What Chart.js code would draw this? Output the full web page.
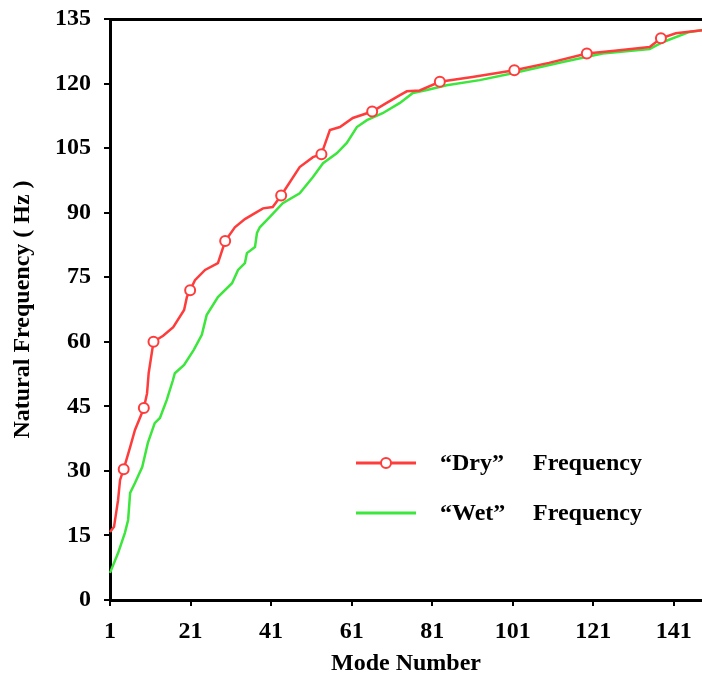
<!DOCTYPE html>
<html>
<head>
<meta charset="utf-8">
<script src="https://cdn.jsdelivr.net/npm/chart.js@4"></script>
<style>
  html, body { margin: 0; padding: 0; background: #fff; }
  #wrap { width: 702px; height: 678px; }
</style>
</head>
<body>
<div id="wrap"><canvas id="freqChart" width="702" height="678"></canvas></div>
<script>
// values: [mode number, natural frequency in Hz]
var dryModes = [1, 2, 3, 3.5, 4.4, 6, 7.2, 8.9, 9.4, 10.2, 10.6, 11.8, 14.2, 16.7, 19.4, 20.1, 20.9, 22.1, 24.6, 27.8, 29.6, 32, 34.5, 37, 39, 41.4, 43.5, 48.1, 51.4, 53.5, 55.6, 58.1, 61.3, 66.1, 69.7, 73, 74.7, 77.9, 82.9, 91, 101.4, 110, 119.4, 126.3, 135, 137.8, 141.5, 148];
var dryFreq = [15.8, 17, 23.2, 27.9, 30.4, 35.5, 39.5, 43.4, 44.6, 48, 52.7, 60, 61.4, 63.4, 67.4, 70.4, 72, 74.3, 76.7, 78.3, 83.4, 86.6, 88.5, 89.9, 91, 91.3, 94, 100.6, 102.9, 103.6, 109.2, 109.9, 112, 113.5, 115.5, 117.3, 118.2, 118.4, 120.4, 121.5, 123.1, 124.8, 127, 127.6, 128.5, 130.5, 131.7, 132.4];
var dryMarked = [4.4, 9.4, 11.8, 20.9, 29.6, 43.5, 53.5, 66.1, 82.9, 101.4, 119.4, 137.8];

var wetModes = [1, 3, 4.7, 5.5, 6, 7.2, 9, 10.4, 12.1, 13.4, 15.1, 16.6, 17.1, 19.4, 21.8, 23.8, 25, 27.8, 31.3, 32.8, 34.5, 35, 37, 37.5, 38.2, 40.7, 43.9, 48.1, 51.4, 53.9, 57.3, 59.8, 62.3, 64.8, 68.7, 73, 76.2, 79.7, 84.6, 92.8, 101, 113.4, 123.3, 135, 138.2, 144.9, 148];
var wetFreq = [6.3, 10.9, 15.6, 18.6, 24.9, 27.2, 30.9, 36.5, 41.1, 42.3, 46.5, 51, 52.7, 54.6, 58.1, 61.6, 66.2, 70.4, 73.6, 76.7, 78.3, 80.6, 82, 85.3, 86.6, 89, 92.2, 94.5, 98.3, 101.5, 103.8, 106.2, 109.9, 111.5, 113.1, 115.5, 117.8, 118.5, 119.6, 120.8, 122.4, 125, 127, 128, 129.6, 132, 132.4];

var xTicks = [1, 21, 41, 61, 81, 101, 121, 141];
var seriesTags = ['\u201cDry\u201d', '\u201cWet\u201d'];
var seriesWord = 'Frequency';

var FONT = '"Liberation Serif", "Times New Roman", serif';
var RED = '#ff3c3c';
var GREEN = '#3ce63c';

function toPoints(xs, ys) {
    return xs.map(function (x, i) { return {x: x, y: ys[i]}; });
}

var dryRadius = dryModes.map(function (m) { return dryMarked.indexOf(m) >= 0 ? 5 : 0; });

// legend drawn inside the plot like in the original figure
var insideLegend = {
    id: 'insideLegend',
    afterDatasetsDraw: function (chart) {
        var ctx = chart.ctx;
        var rows = [{y: 463, color: RED, marker: true}, {y: 513, color: GREEN, marker: false}];
        ctx.save();
        rows.forEach(function (r, i) {
            ctx.strokeStyle = r.color;
            ctx.lineWidth = 3;
            ctx.beginPath();
            ctx.moveTo(356, r.y);
            ctx.lineTo(416, r.y);
            ctx.stroke();
            if (r.marker) {
                ctx.fillStyle = '#fff';
                ctx.lineWidth = 2;
                ctx.beginPath();
                ctx.arc(386, r.y, 5, 0, Math.PI * 2);
                ctx.fill();
                ctx.stroke();
            }
            ctx.fillStyle = '#000';
            ctx.font = 'bold 24px ' + FONT;
            ctx.textBaseline = 'middle';
            ctx.textAlign = 'left';
            ctx.fillText(seriesTags[i], 440, r.y + 1);
            ctx.fillText(seriesWord, 533, r.y + 1);
        });
        ctx.restore();
    }
};

new Chart(document.getElementById('freqChart'), {
    type: 'line',
    data: {
        datasets: [{
            label: seriesTags[0] + ' ' + seriesWord,
            data: toPoints(dryModes, dryFreq),
            borderColor: RED,
            borderWidth: 2.5,
            pointRadius: dryRadius,
            pointBackgroundColor: '#fff',
            pointBorderColor: RED,
            pointBorderWidth: 2,
            tension: 0,
            fill: false
        }, {
            label: seriesTags[1] + ' ' + seriesWord,
            data: toPoints(wetModes, wetFreq),
            borderColor: GREEN,
            borderWidth: 2.5,
            pointRadius: 0,
            tension: 0,
            fill: false
        }]
    },
    options: {
        responsive: false,
        animation: false,
        clip: false,
        layout: {padding: 0},
        plugins: {
            legend: {display: false},
            tooltip: {enabled: false}
        },
        scales: {
            x: {
                type: 'linear',
                min: 1,
                max: 148,
                afterBuildTicks: function (scale) {
                    scale.ticks = xTicks.map(function (v) { return {value: v}; });
                },
                afterFit: function (scale) {
                    scale.height = 78;
                    scale.paddingLeft = 0;
                    scale.paddingRight = 0;
                },
                grid: {drawOnChartArea: false, drawTicks: true, tickLength: 6, color: '#000', lineWidth: 2},
                border: {color: '#000', width: 3},
                ticks: {color: '#000', font: {family: FONT, size: 24, weight: 'bold'}, padding: 11, maxRotation: 0, autoSkip: false},
                title: {display: true, text: 'Mode Number', color: '#000', font: {family: FONT, size: 24, weight: 'bold'}, padding: {top: 0, bottom: 0}}
            },
            xTop: {
                type: 'linear',
                position: 'top',
                min: 1,
                max: 148,
                afterFit: function (scale) { scale.height = 19; },
                grid: {display: false},
                border: {color: '#000', width: 3},
                ticks: {display: false}
            },
            y: {
                min: 0,
                max: 135,
                afterFit: function (scale) {
                    scale.width = 110;
                    scale.paddingTop = 0;
                    scale.paddingBottom = 0;
                },
                grid: {drawOnChartArea: false, drawTicks: true, tickLength: 6, color: '#000', lineWidth: 2},
                border: {color: '#000', width: 3},
                ticks: {stepSize: 15, color: '#000', font: {family: FONT, size: 24, weight: 'bold'}, padding: 13},
                title: {display: true, text: 'Natural Frequency ( Hz )', color: '#000', font: {family: FONT, size: 24, weight: 'bold'}, padding: {top: 8, bottom: 0}}
            }
        }
    },
    plugins: [insideLegend]
});
</script>
</body>
</html>
